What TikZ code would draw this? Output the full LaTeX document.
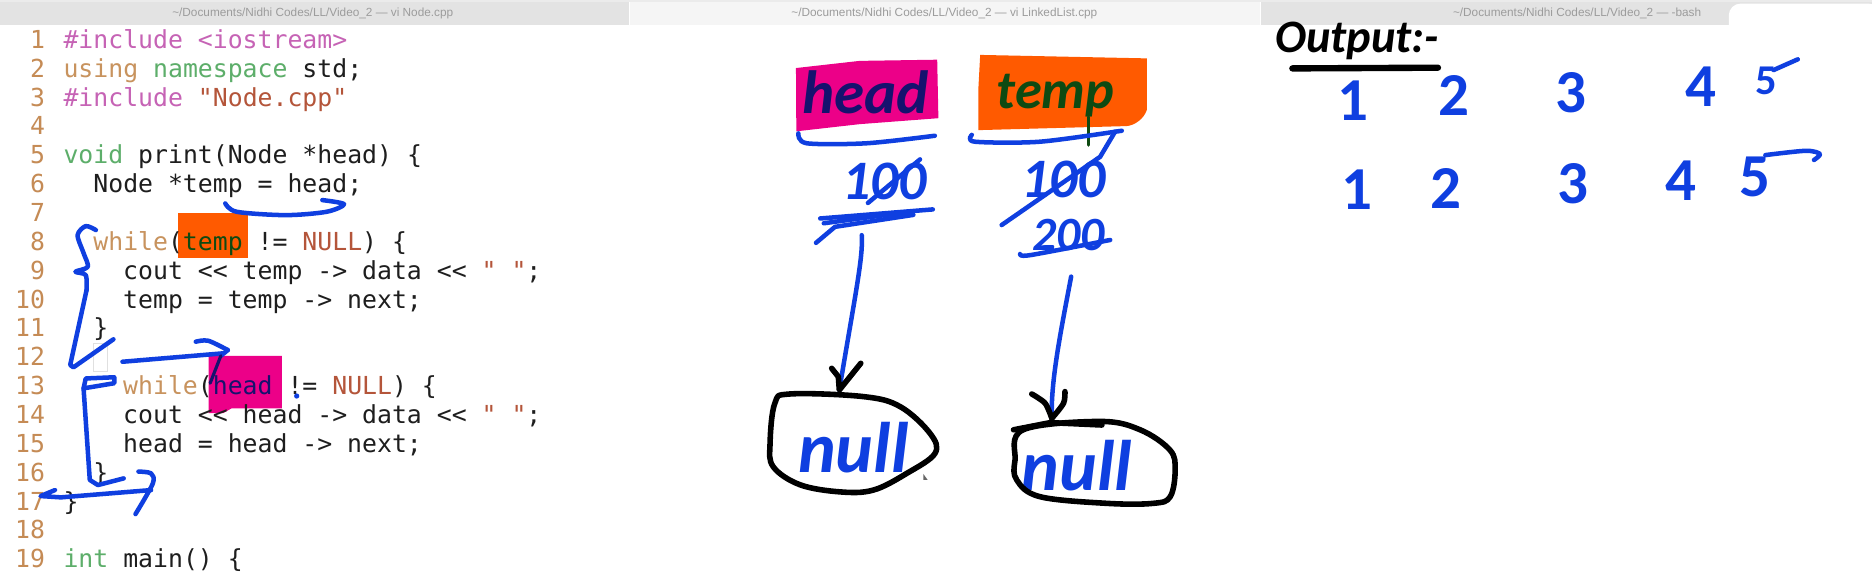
\documentclass[tikz,border=0pt]{standalone}
\usepackage{fontspec}
\usepackage{xcolor}
\usetikzlibrary{arrows.meta,positioning,calc}
\newfontfamily\codefont{DejaVu Sans Mono}
\newfontfamily\tabfont{Liberation Sans}
\newfontfamily\handfont{Carlito}
\definecolor{penblue}{HTML}{0F3FE0}
\definecolor{pennavy}{HTML}{16126E}
\definecolor{pengreen}{HTML}{0E4A12}
\definecolor{hotpink}{HTML}{EC0088}
\definecolor{hotorange}{HTML}{FF5A00}
\definecolor{tabdark}{HTML}{E3E3E3}
\definecolor{tablight}{HTML}{F5F5F5}
\definecolor{tabtext}{HTML}{9C9C9C}
\definecolor{numtan}{HTML}{C58B55}
\definecolor{kwtan}{HTML}{C8935E}
\definecolor{kwpink}{HTML}{C663B5}
\definecolor{kwgreen}{HTML}{5DAE6A}
\definecolor{kwred}{HTML}{B4553A}
\definecolor{codeink}{HTML}{1E1E1E}
\tikzset{
  codeline/.style={font=\codefont\fontsize{18.7}{20}\selectfont, text=codeink, anchor=base west, inner sep=0pt},
  lineno/.style={font=\codefont\fontsize{18.7}{20}\selectfont, text=numtan, anchor=base east, inner sep=0pt},
  tabtitle/.style={font=\tabfont\fontsize{8.9}{10}\selectfont, text=tabtext, inner sep=0pt},
  pen/.style={draw=penblue, line width=3.4pt, line cap=round, line join=round},
  blackpen/.style={draw=black, line width=4.2pt, line cap=round, line join=round},
  hand/.style={font=\handfont\bfseries\itshape\fontsize{#1}{#1}\selectfont, text=penblue, inner sep=0pt},
  digit/.style={font=\handfont\bfseries\fontsize{#1}{#1}\selectfont, text=penblue, inner sep=0pt},
}
\begin{document}
\begin{tikzpicture}[x=0.9pt,y=-0.9pt]
  \useasboundingbox (0,0) rectangle (1568,483.3);
  \fill[white] (0,0) rectangle (1568,483.3);

  % window tabs
  \fill[tabdark] (0,2) rectangle (527,21);
  \fill[tablight] (528,2) rectangle (1055,21);
  \fill[tabdark] (1056,2) rectangle (1568,21);
  \fill[tabdark!70] (0,0) rectangle (1568,2);
  \node[tabtitle] (tabnode) at (262,11) {\textasciitilde/Documents/Nidhi Codes/LL/Video\_2 — vi Node.cpp};
  \node[tabtitle] (tablist) at (791,11) {\textasciitilde/Documents/Nidhi Codes/LL/Video\_2 — vi LinkedList.cpp};
  \node[tabtitle] (tabbash) at (1321,11) {\textasciitilde/Documents/Nidhi Codes/LL/Video\_2 — -bash};
  \fill[white, rounded corners=9pt] (1448,3) rectangle (1575,60);

  % highlights behind the code
  \fill[hotorange] (149,178) rectangle (208,216);
  \fill[hotpink] (174.7,298) -- (236,298) -- (236,342) -- (194,342) -- (187,346) -- (174.7,346) -- cycle;
  \draw[black!12] (78,287.6) rectangle (89.6,310.8);

  % line numbers
  \foreach \n in {1,...,19} {
    \node[lineno] (num\n) at (38,{16.3+24.17*\n}) {\n};
  }

  % code
  \foreach \n/\ind/\txt in {
    1/0/{\textcolor{kwpink}{\#include <iostream>}},
    2/0/{\textcolor{kwtan}{using} \textcolor{kwgreen}{namespace} std;},
    3/0/{\textcolor{kwpink}{\#include} \textcolor{kwred}{"Node.cpp"}},
    5/0/{\textcolor{kwgreen}{void} print(Node *head) \{},
    6/2/{Node *temp = head;},
    8/2/{\textcolor{kwtan}{while}(\textcolor{pengreen}{temp} != \textcolor{kwred}{NULL}) \{},
    9/4/{cout << temp -> data << \textcolor{kwred}{" "};},
    10/4/{temp = temp -> next;},
    11/2/{\}},
    13/4/{\textcolor{kwtan}{while}(\textcolor{pennavy}{head} != \textcolor{kwred}{NULL}) \{},
    14/4/{cout << head -> data << \textcolor{kwred}{" "};},
    15/4/{head = head -> next;},
    16/2/{\}},
    17/0/{\}},
    19/0/{\textcolor{kwgreen}{int} main() \{}
  } {
    \node[codeline] (code\n) at ({53+12.5*\ind},{16.3+24.17*\n}) {\txt};
  }

  % strokes over the code
  \draw[pen] plot[smooth] coordinates {(188.7,170.4) (198.3,177.4) (239.3,180.2) (273.5,177.4) (288.2,171) (270,167.6)};
  \draw[pen] plot[smooth, tension=0.5] coordinates {(80.3,192.7) (71.8,189.4) (65,197) (70,212) (73.5,223.5) (63.2,227.6) (71.8,230.4) (72.5,243)};
  \draw[pen] (72.5,243) -- (58.8,305.7) -- (61.5,307.7) -- (95,284.2);
  \draw[pen] (102.6,303) -- (186.3,296);
  \draw[pen] plot[smooth, tension=0.5] coordinates {(164,286.2) (174.4,285.4) (190.8,293.2)};
  \draw[pen] (190.8,293.2) -- (185,298);
  \draw[pen, draw=pennavy, line width=2.4pt] (185,298) -- (176,321);
  \fill[penblue] (248.5,331.7) circle (2.2);
  \draw[pen] (95.7,316) -- (71.8,317) -- (70,325.3) -- (95.7,321) -- (95.7,316);
  \draw[pen] (70,325.3) -- (75.2,402) -- (82,406.3) -- (103.6,400.7);
  \draw[pen] (46,410.5) -- (34,415.5) -- (51,416.6) -- (126.5,410.5);
  \draw[pen] plot[smooth, tension=0.5] coordinates {(116,395) (126.5,396.5) (128,405) (113.5,430.6)};

  % head column
  \fill[hotpink] (666.7,57) -- (720,51) -- (785,50) -- (786,99) -- (720,104) -- (667,110) -- cycle;
  \node[hand=46, text=pennavy] (headword) at (725,77) {head};
  \draw[pen] plot[smooth] coordinates {(668.7,111.7) (675.7,120) (726,120) (783,113.7)};
  \node[hand=42] (headold) at (741,152) {100};
  \draw[pen] (770.6,133.5) -- (727,170);
  \draw[pen] (687,183) -- (781.3,175.4);
  \draw[pen] (690,187) -- (765,177);
  \draw[pen] (683.5,203.4) -- (699.4,190) -- (765,180);
  \coordinate (headtail) at (721.8,197);
  \coordinate (headtip) at (703,326.7);
  \draw[pen] (headtail) .. controls (723,215) and (717,243) .. (headtip);
  \draw[blackpen] (696.6,308.5) -- (702.2,315.5) -- (headtip) -- (721,304.3);
  \node[hand=54] (nullone) at (714.8,375) {null};
  \draw[blackpen] plot[smooth cycle, tension=0.6] coordinates {(661.7,330) (723.2,332.2) (754,340.6) (779,363) (783.2,379.7) (759.5,396.5) (731.5,410.5) (703.6,412) (670,406) (647.7,391) (645,371.4) (649,337.8)};

  % temp column
  \fill[hotorange] (821,46) -- (960.6,48.9) -- (960.6,92) .. controls (958,100) and (950,105) .. (943.8,105.6) -- (819.5,109) -- (819.5,74) -- cycle;
  \node[hand=41, text=pengreen] (tempword) at (884,80) {temp};
  \draw[line width=2.6pt, draw=pengreen, line cap=round] (911.7,98) -- (911.7,121.5);
  \draw[pen] plot[smooth] coordinates {(814,113) (816.7,118.7) (871,118.7) (939.6,109.5)};
  \node[hand=42] (tempold) at (891,150) {100};
  \draw[pen] (934,110.3) -- (921.5,131.3) -- (839,188.5);
  \node[hand=36] (tempnew) at (895,197) {200};
  \draw[pen] plot[smooth] coordinates {(854.4,212.8) (863,213.7) (929.9,201)};
  \coordinate (temptail) at (897.2,231.7);
  \coordinate (temptip) at (881,350.4);
  \draw[pen] (temptail) .. controls (888,280) and (880,320) .. (temptip);
  \draw[blackpen] plot[smooth, tension=0.5] coordinates {(864.2,330) (875.4,337.8) (temptip)};
  \draw[blackpen] plot[smooth, tension=0.5] coordinates {(temptip) (890.8,337.8) (892,328)};
  \node[hand=54] (nulltwo) at (902,390) {null};
  \draw[blackpen] plot[smooth cycle, tension=0.6] coordinates {(857,360) (921.5,353) (955,360) (980,377) (984.3,393.7) (980.2,416) (966,421.6) (927,421.6) (871,416) (851.6,402) (850.2,385.3)};
  \draw[blackpen] (848.9,360) -- (879.6,354) -- (923,356);
  \fill[black!60] (773.4,402) -- (773.4,397) -- (777,402) -- cycle;

  % output
  \node[hand=35, text=black] (outword) at (1136.7,34) {Output:-};
  \draw[blackpen, line width=4.8pt] (1082.5,57.3) -- (1204.4,56.7);
  \foreach \d/\x/\y/\sz in {1/1133/84/46, 2/1218/80/46, 3/1316/78/46, 4/1424.5/73/46, 5/1479/68/32} {
    \node[digit=\sz] (first\d) at (\x,\y) {\d};
  }
  \foreach \d/\x/\y/\sz in {1/1136.7/159/46, 2/1211.2/158/46, 3/1317.9/154/46, 4/1407.6/151/46, 5/1470/148/46} {
    \node[digit=\sz] (second\d) at (\x,\y) {\d};
  }
  \draw[pen] (1485.5,58.7) -- (1505.8,49.7);
  \draw[pen] plot[smooth, tension=0.5] coordinates {(1478.7,129.9) (1512.6,126.3) (1524.4,129) (1519.4,134)};
\end{tikzpicture}
\end{document}
